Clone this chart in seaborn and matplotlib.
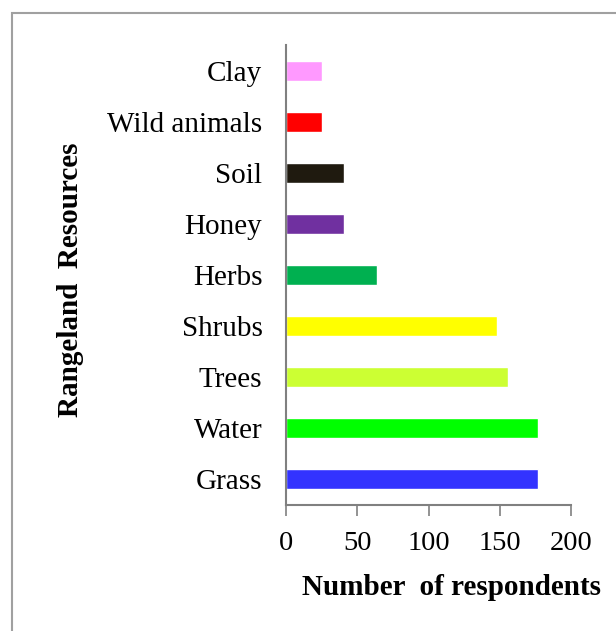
import pandas as pd
import matplotlib.pyplot as plt
import seaborn as sns
from matplotlib.patches import Rectangle

# Rangeland resources reported by respondents (top to bottom as drawn)
resources = ['Clay', 'Wild animals', 'Soil', 'Honey', 'Herbs',
             'Shrubs', 'Trees', 'Water', 'Grass']
respondents = [25, 25, 41, 41, 64, 148, 156, 177, 177]
bar_colors = ['#FF99FF', '#FF0000', '#1F1A0F', '#7030A0', '#00B050',
              '#FFFF00', '#CCFF33', '#00FF00', '#3333FF']
x_ticks = [0, 50, 100, 150, 200]

sns.set_style("white")
plt.rcParams['font.family'] = ['Liberation Serif', 'DejaVu Serif']
plt.rcParams['text.color'] = 'black'
plt.rcParams['axes.labelcolor'] = 'black'
plt.rcParams['xtick.labelcolor'] = 'black'
plt.rcParams['ytick.labelcolor'] = 'black'

df = pd.DataFrame({'resource': resources, 'count': respondents})

fig = plt.figure(figsize=(6.16, 6.31), dpi=100)
ax = fig.add_axes([0.4643, 0.1997, 0.4627, 0.729])

sns.barplot(data=df, x='count', y='resource', hue='resource', order=resources,
            palette=bar_colors, legend=False, width=0.39, saturation=1,
            orient='h', ax=ax)

ax.set_xlim(0, 200)
ax.set_ylim(8.5, -0.5)
ax.set_xticks(x_ticks)
ax.tick_params(axis='x', labelsize=20.5, length=8, width=1.2, color='#808080',
               direction='out', bottom=True, pad=11, labelcolor='black')
ax.tick_params(axis='y', labelsize=21, length=0, pad=17, labelcolor='black')

for side in ['top', 'right']:
    ax.spines[side].set_visible(False)
for side in ['left', 'bottom']:
    ax.spines[side].set_color('#808080')
    ax.spines[side].set_linewidth(1.5)

ax.set_xlabel("Number  of respondents", fontsize=21, fontweight='bold',
              color='black')
ax.xaxis.set_label_coords(0.579, -0.15)
ax.set_ylabel("Rangeland  Resources", fontsize=21, fontweight='bold',
              color='black')
ax.yaxis.set_label_coords(-0.71, 0.49)

# outer frame (chart box cut off at the right and bottom)
fig.patches.append(Rectangle((12 / 616, -0.1), 1.2, 1.1 - 13 / 631,
                             transform=fig.transFigure, fill=False,
                             edgecolor='#A0A0A0', linewidth=1.5))

fig.savefig("out.png", dpi=100)
